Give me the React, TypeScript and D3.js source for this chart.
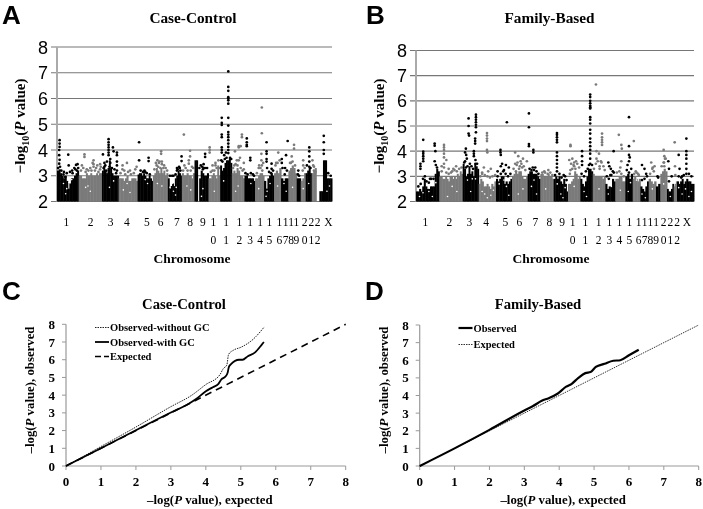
import React, { useRef, useEffect } from 'react';
import * as d3 from 'd3';

type Hit = [number, number];

const chromosomes = ['1','2','3','4','5','6','7','8','9','10','11','12','13','14','15','16','17','18','19','20','21','22','X'];
const caseWidths = [65,70,50,57,46,45,42,38,42,35,35,38,32,27,30,21,22,25,12,15,18,23,38];
const familyWidths = [70,70,48,52,48,47,38,40,43,37,37,38,30,30,22,23,25,22,13,20,20,10,51];
// where the axis labels sit, in the same units as the widths above
const caseTickPos = [28,101,161,210,270,311,360,400,438,470,508,548,580,610,638,668,687,703,719,744,764,783,815];
const familyTickPos = [28,100,160,210,268,310,358,400,438,470,508,548,580,610,640,668,686,703,720,743,763,783,813];
const manhattanTicks = [2,3,4,5,6,7,8];
const qqTicks = [0,1,2,3,4,5,6,7,8];

// top of the solid band, column by column, 0 = empty column
const caseBand: number[][] = [
  [3.2,3.25,3.1,3.0,2.9,3.0,2.8,2.5,2.7,2.9,2.9,3.0,3.1,3.2],
  [3.0,3.0,2.9,2.9,2.9,3.1,3.0,3.0,3.1,3.0,3.0,3.0,3.1,3.0,3.1,3.1],
  [3.2,3.3,3.2,3.1,3.3,3.6,3.3,3.1,3.0,3.0,3.0,3.0],
  [2.9,2.9,2.9,2.8,2.9,3.0,2.8,2.8,2.9,2.9,2.9,2.8],
  [3.05,3.1,3.1,3.0,3.1,3.0,2.9,2.9,3.0,2.9,2.8],
  [3.0,3.1,3.3,3.2,3.1,3.3,3.1,3.2,3.0,3.1],
  [2.9,2.5,2.6,2.7,2.6,2.9,3.0,3.2,3.1,3.0],
  [3.1,3.0,3.0,3.1,3.0,3.0,2.9,3.1],
  [3.6,3.6,0,2.9,3.2,3.1,3.0,3.0,3.1],
  [2.9,2.9,3.0,3.1,3.0,2.9,3.4,3.0],
  [3.4,3.2,3.3,3.5,3.6,3.6,3.7,3.5],
  [3.1,3.2,3.1,3.3,3.2,3.0,3.0,2.9],
  [3.0,3.0,2.9,2.9,2.9,2.9,2.8],
  [2.9,2.9,3.0,3.1,3.1,3.0],
  [2.8,2.5,2.9,3.0,3.1,3.0],
  [3.1,3.2,3.1,3.3],
  [2.9,2.8,2.9,2.9],
  [3.2,3.3,3.4,3.3,3.1],
  [2.9,2.9],
  [2.8,2.9,3.1],
  [3.1,3.2,3.3,3.1],
  [3.1,3.2,3.3,0,0],
  [2.4,2.4,3.6,3.6,2.9,2.9,2.9],
];
const caseHits: Hit[][] = [
  [[.12,4.38],[.12,4.25],[.12,4.12],[.1,4.0],[.1,3.8],[.12,3.62],[.1,3.47],[.14,3.35],[.52,3.82],[.54,3.4],[.32,3.15],[.38,2.95],[.8,3.3],[.88,3.42],[.95,3.45],[.7,3.2]],
  [[.25,3.83],[.25,3.73],[.14,3.4],[.64,3.6],[.64,3.45],[.64,3.35],[.92,3.45],[.92,3.25],[.42,3.2],[.75,3.3],[.55,3.2]],
  [[.4,4.42],[.4,4.3],[.4,4.2],[.4,4.1],[.4,4.0],[.4,3.9],[.4,3.8],[.06,3.83],[.66,4.1],[.7,3.95],[.9,3.9],[.9,3.8],[.9,3.55],[.9,3.4],[.9,3.2],[.15,3.5],[.15,3.35],[.5,3.5],[.5,3.65]],
  [[.21,3.4],[.44,3.5],[.88,3.25],[.3,3.2],[.6,3.2]],
  [[.1,4.3],[.1,3.6],[.72,3.7],[.72,3.57],[.35,3.15],[.5,3.15]],
  [[.55,3.95],[.55,3.85],[.2,3.5],[.3,3.6],[.45,3.55],[.6,3.45],[.75,3.4]],
  [[.98,3.75],[.98,3.57],[.65,3.3],[.65,3.2],[.8,3.35],[.3,3.0]],
  [[.16,4.6],[.65,3.97],[.65,3.75],[.55,3.6],[.55,3.47],[.8,3.35]],
  [[.76,3.85],[.76,3.73],[.65,3.45],[.65,3.3],[.55,3.35]],
  [[.1,4.1],[.1,4.0],[.1,3.9],[.35,3.4],[.6,3.4],[.85,3.6]],
  [[.14,4.6],[.14,4.5],[.14,4.1],[.14,4.0],[.14,3.9],[.7,7.05],[.7,6.45],[.7,6.3],[.7,6.05],[.7,6.0],[.7,5.93],[.7,5.8],[.14,5.25],[.7,5.25],[.14,5.05],[.14,4.97],[.7,4.95],[.7,4.7],[.7,4.6],[.7,4.5],[.7,4.38],[.7,4.25],[.7,4.12],[.7,4.0],[.7,3.88],[.35,3.8],[.5,3.9]],
  [[.8,4.6],[.8,4.5],[.55,4.15],[.55,4.1],[.7,4.15],[.25,3.95],[.65,3.7],[.4,3.6],[.95,3.5]],
  [[.22,4.45],[.22,4.3],[.22,4.2],[.22,4.15],[.55,3.7],[.55,3.6]],
  [[.75,5.65],[.75,4.65],[.7,3.85],[.7,3.6],[.75,3.4],[.45,3.4]],
  [[.25,4.3],[.25,3.95],[.25,3.85],[.25,3.65],[.25,3.55],[.75,3.47],[.75,3.27]],
  [[.6,3.9],[.3,3.5]],
  [[.9,4.35],[.68,3.8],[.1,3.65],[.1,3.5],[.55,3.3]],
  [[.68,4.2],[.68,4.05],[.4,3.75],[.3,3.5]],
  [[.4,3.2],[.6,3.0]],
  [[.5,3.6],[.5,3.4]],
  [[.6,4.1],[.6,3.95],[.6,3.75],[.6,3.55],[.6,3.35]],
  [[.1,3.6],[.2,3.4],[.3,3.2]],
  [[.35,4.55],[.35,4.3],[.35,4.0],[.35,3.85]],
];
// the looser points just above the band
const caseFuzz: Hit[][] = [
  [[.05,3.3],[.2,3.2],[.3,3.05],[.45,3.1],[.6,3.15],[.72,3.1],[.85,3.25],[.92,3.2],[.98,3.3]],
  [[.1,3.2],[.2,3.3],[.3,3.15],[.5,3.3],[.6,3.5],[.7,3.2],[.8,3.4],[.85,3.15],[.95,3.35],[.35,3.25]],
  [[.1,3.3],[.2,3.4],[.3,3.55],[.45,3.35],[.6,3.3],[.75,3.25],[.85,3.1],[.25,3.2]],
  [[.1,3.1],[.2,3.25],[.35,3.05],[.5,3.15],[.65,3.05],[.8,3.1],[.95,3.35]],
  [[.2,3.2],[.45,3.2],[.6,3.1],[.8,3.05]],
  [[.1,3.25],[.25,3.4],[.35,3.35],[.4,3.5],[.5,3.3],[.6,3.55],[.7,3.3],[.85,3.3],[.95,3.2]],
  [[.15,3.0],[.4,3.0],[.55,3.05],[.7,3.25],[.85,3.3],[.9,3.2]],
  [[.1,3.2],[.3,3.3],[.45,3.2],[.7,3.2],[.9,3.3],[.2,3.4]],
  [[.35,3.3],[.45,3.4],[.6,3.25],[.75,3.3],[.9,3.3]],
  [[.2,3.15],[.35,3.2],[.5,3.2],[.7,3.3],[.9,3.3],[.6,3.5]],
  [[.1,3.6],[.2,3.55],[.4,3.65],[.55,3.7],[.85,3.7],[.95,3.65]],
  [[.1,3.3],[.2,3.4],[.3,3.45],[.45,3.4],[.55,3.6],[.7,3.3],[.85,3.2],[.95,3.25]],
  [[.1,3.1],[.3,3.05],[.6,3.1],[.8,3.05],[.9,3.0]],
  [[.2,3.1],[.4,3.3],[.6,3.3],[.8,3.2],[.9,3.5]],
  [[.3,3.3],[.5,3.15],[.7,3.1],[.9,3.2]],
  [[.2,3.4],[.5,3.5],[.8,3.6]],
  [[.2,3.3],[.5,3.05],[.8,3.2]],
  [[.2,3.5],[.5,3.55],[.8,3.4]],
  [[.3,3.05]],
  [[.4,3.2],[.8,3.3]],
  [[.2,3.4],[.8,3.3]],
  [[.3,3.35],[.5,3.15]],
  [[.7,3.1],[.9,3.0]],
];
// white holes in the band
const caseGaps: Hit[][] = [
  [[.3,2.7],[.45,2.5],[.55,2.75],[.68,2.85],[.4,2.3]],
  [[.3,2.55],[.4,2.6],[.5,2.4]],
  [[.7,2.8],[.45,2.55]],
  [[.25,2.45],[.6,2.35],[.45,2.7]],
  [[.5,2.85],[.65,2.7]],
  [[.3,2.7],[.6,2.6]],
  [[.15,2.55],[.4,2.4],[.55,2.25],[.3,2.7],[.6,2.55]],
  [[.4,2.6],[.7,2.45]],
  [[.6,2.5],[.5,2.2]],
  [[.5,2.4]],
  [[.3,2.8]],
  [[.5,2.6],[.3,2.4]],
  [[.6,2.7]],
  [[.4,2.5]],
  [[.3,2.4],[.2,2.2],[.6,2.7]],
  [[.5,2.6]],
  [[.4,2.7],[.7,2.4]],
  [[.5,2.55]],
  [],
  [[.5,2.5]],
  [[.5,2.7]],
  [],
  [[.6,2.4],[.8,2.6]],
];
const familyBand: number[][] = [
  [2.4,2.4,2.5,2.4,2.6,2.9,2.6,2.5,2.5,2.6,2.6,2.6,3.1,3.3,3.2],
  [3.0,3.0,2.9,2.9,3.0,2.9,2.8,3.0,3.0,2.9,3.0,2.9,3.1,3.0,3.2,3.1],
  [3.5,3.3,3.0,3.1,3.4,3.1,3.2,3.0,3.5,3.4,3.3],
  [2.7,2.9,2.8,2.6,2.6,2.7,2.6,2.5,2.7,2.6,2.8],
  [2.9,2.8,2.9,3.0,3.0,2.7,2.8,2.7,2.8,2.9],
  [3.0,3.1,3.2,3.1,3.2,3.2,3.0,2.9,2.9,3.0],
  [3.1,3.2,3.2,3.1,3.1,3.1,3.0,2.9],
  [3.1,3.1,3.0,3.0,3.0,3.1,3.0,3.0,2.9],
  [2.9,3.0,2.9,3.0,2.8,2.7,2.9,2.7,2.4],
  [2.7,2.7,2.8,2.9,3.2,3.1,2.9,3.0],
  [2.9,2.7,2.6,2.8,3.0,3.3,3.3,3.2],
  [3.1,3.0,3.0,3.0,3.0,3.0,2.9,3.0],
  [2.7,2.5,2.6,2.6,2.9,2.8],
  [2.9,2.9,3.0,3.0,2.8,2.8],
  [3.0,3.1,2.9,3.1],
  [2.9,3.0,2.9,2.8,2.9],
  [2.6,2.5,2.4,2.6,2.8],
  [2.9,2.8,2.7,2.8],
  [2.6,2.7],
  [3.1,3.2,3.3,3.2],
  [2.5,2.4,2.4,2.5,2.7],
  [2.6,2.7,2.8],
  [2.8,2.7,2.8,2.9,2.7,2.8,2.9,2.8,2.8,2.7,2.7],
];
const familyHits: Hit[][] = [
  [[.31,4.45],[.31,3.98],[.31,3.9],[.31,3.8],[.31,3.7],[.31,3.6],[.19,3.5],[.19,3.4],[.19,3.3],[.8,4.3],[.8,4.22],[.83,4.0],[.8,3.6],[.85,3.45],[.38,3.0],[.6,2.9]],
  [[.2,4.25],[.2,4.15],[.2,4.05],[.2,3.9],[.2,3.75],[.2,3.5],[.3,3.65],[.1,3.4],[.4,3.3],[.6,3.3],[.72,3.4],[.5,3.15]],
  [[.37,5.3],[.37,5.0],[.37,4.7],[.4,4.62],[.83,5.45],[.83,5.35],[.83,5.25],[.83,5.15],[.83,5.05],[.83,4.95],[.83,4.75],[.78,4.5],[.78,4.4],[.78,4.3],[.2,4.1],[.15,3.95],[.22,3.85],[.26,3.7],[.15,3.6],[.7,4.0],[.7,3.9],[.7,3.8],[.8,3.65],[.8,3.5]],
  [[.48,4.72],[.48,4.62],[.48,4.5],[.48,4.4],[.48,4.05],[.5,3.95],[.3,3.35],[.55,3.2],[.7,3.3],[.2,3.15]],
  [[.68,5.15],[.28,4.05],[.28,3.95],[.3,3.85],[.38,3.5],[.3,3.4],[.5,3.25],[.62,3.45],[.8,3.35],[.1,3.2]],
  [[.2,3.95],[.4,3.8],[.55,3.6],[.7,3.7],[.3,3.45],[.5,3.4],[.65,3.35],[.25,3.2]],
  [[.1,5.5],[.1,4.95],[.1,4.28],[.1,4.2],[.45,4.05],[.45,3.95],[.4,3.35],[.6,3.35]],
  [[.3,3.2],[.6,3.25]],
  [[.23,4.72],[.23,4.65],[.23,4.55],[.23,4.45],[.23,4.35],[.23,3.95],[.23,3.8],[.23,3.65],[.23,3.5],[.23,3.35],[.23,3.2],[.8,3.0]],
  [[.2,4.25],[.2,4.2],[.1,3.65],[.25,3.5],[.35,3.7],[.5,3.55],[.5,3.4],[.65,3.6],[.2,3.25]],
  [[.14,4.0],[.14,3.8],[.14,3.6],[.14,3.45],[.8,6.25],[.8,6.15],[.8,6.0],[.8,5.9],[.8,5.8],[.8,5.75],[.8,5.7],[.8,5.35],[.8,5.25],[.8,5.1],[.8,4.85],[.8,4.7],[.8,4.5],[.8,4.35],[.8,4.2],[.8,4.05],[.8,3.9],[.8,3.7],[.8,3.5]],
  [[.26,6.65],[.74,4.7],[.74,4.55],[.74,4.45],[.74,4.35],[.74,4.25],[.3,4.0],[.5,3.9],[.3,3.7],[.65,3.6],[.55,3.4]],
  [[.83,4.0],[.3,3.55],[.4,3.4],[.55,3.3],[.75,3.2],[.5,3.05]],
  [[.35,4.65],[.6,4.25],[.65,4.1],[.6,3.6],[.5,3.35]],
  [[.5,5.35],[.5,4.2],[.5,3.85],[.6,3.75],[.5,3.6],[.3,3.45]],
  [[.15,4.4],[.4,3.2],[.7,3.1]],
  [[.2,3.45],[.5,3.3],[.7,3.1]],
  [[.35,3.55],[.55,3.35],[.7,3.2]],
  [[.35,3.0]],
  [[.5,4.05],[.6,3.8],[.7,3.7],[.55,3.55],[.6,3.4]],
  [[.2,3.6],[.3,3.3]],
  [[.3,4.35],[.4,3.4]],
  [[.55,4.5],[.55,4.0],[.55,3.85],[.55,3.7],[.55,3.5],[.55,3.3],[.55,3.1],[.1,3.85],[.15,3.3],[.3,3.0]],
];
const familyFuzz: Hit[][] = [
  [[.1,2.6],[.2,2.7],[.3,2.9],[.45,2.8],[.55,2.75],[.65,2.9],[.75,2.9],[.9,3.35]],
  [[.1,3.2],[.2,3.35],[.3,3.15],[.4,3.1],[.55,3.2],[.65,3.25],[.75,3.2],[.85,3.3],[.95,3.35]],
  [[.1,3.55],[.2,3.35],[.3,3.4],[.45,3.5],[.55,3.4],[.65,3.3],[.9,3.5]],
  [[.1,3.0],[.2,3.1],[.35,3.05],[.5,3.0],[.65,2.95],[.8,3.0],[.95,3.05]],
  [[.1,3.0],[.3,3.1],[.45,3.2],[.6,3.1],[.75,3.0],[.9,3.1]],
  [[.1,3.3],[.2,3.5],[.35,3.55],[.45,3.3],[.6,3.5],[.75,3.4],[.85,3.25],[.95,3.6]],
  [[.15,3.3],[.3,3.25],[.5,3.25],[.7,3.2],[.85,3.1]],
  [[.15,3.15],[.35,3.15],[.55,3.1],[.75,3.15],[.9,3.05]],
  [[.1,3.05],[.4,3.1],[.55,2.95],[.7,3.05],[.9,2.85]],
  [[.15,3.1],[.35,3.3],[.45,3.45],[.6,3.3],[.75,3.5],[.9,3.35]],
  [[.1,3.1],[.3,3.0],[.45,3.2],[.6,3.3],[.7,3.45],[.95,3.45]],
  [[.1,3.3],[.25,3.5],[.4,3.6],[.55,3.3],[.7,3.55],[.85,3.4],[.95,3.25]],
  [[.15,3.0],[.35,2.9],[.6,3.05],[.85,3.15]],
  [[.15,3.15],[.4,3.2],[.6,3.1],[.85,3.0]],
  [[.2,3.25],[.5,3.15],[.8,3.3]],
  [[.2,3.1],[.5,3.15],[.8,3.05]],
  [[.2,2.85],[.5,2.9],[.8,3.0]],
  [[.2,3.1],[.5,3.3],[.8,3.4]],
  [[.5,2.95]],
  [[.2,3.4],[.5,3.55],[.8,3.7]],
  [[.3,2.8],[.7,3.0]],
  [[.5,3.05]],
  [[.1,3.0],[.25,2.95],[.4,3.05],[.7,3.1],[.85,3.0]],
];
const familyGaps: Hit[][] = [
  [[.15,2.2],[.3,2.35],[.55,2.4],[.7,2.2],[.85,2.75]],
  [[.35,2.2],[.55,2.6],[.75,2.4]],
  [[.3,2.85],[.6,2.9],[.8,2.9],[.5,2.4]],
  [[.2,2.4],[.35,2.3],[.5,2.15],[.7,2.25],[.85,2.45]],
  [[.2,2.7],[.5,2.85],[.65,2.6],[.8,2.25]],
  [[.4,2.3],[.7,2.5]],
  [[.3,2.6],[.5,2.85],[.7,2.3]],
  [[.4,2.5]],
  [[.25,2.7],[.5,2.3],[.65,2.15],[.8,2.55]],
  [[.5,2.6]],
  [[.3,2.4],[.5,2.2]],
  [[.5,2.5]],
  [[.3,2.3],[.6,2.6]],
  [[.5,2.45]],
  [[.4,2.4],[.7,2.75]],
  [[.5,2.85]],
  [[.2,2.3],[.6,2.15]],
  [[.5,2.5]],
  [],
  [[.5,2.7]],
  [[.5,2.2]],
  [],
  [[.1,2.55],[.3,2.3],[.5,2.5],[.7,2.2],[.85,2.4]],
];

const withGC: Hit[] = [[0,0],[1,1],[2,2.02],[3,3.02],[3.5,3.5],[3.7,3.75],[4,4.22],[4.2,4.45],[4.36,4.64],[4.45,4.9],[4.55,5.03],[4.62,5.25],[4.66,5.6],[4.72,5.75],[4.95,6],[5.05,6],[5.2,6.2],[5.4,6.4],[5.6,6.85],[5.66,7]];
const withoutGC: Hit[] = [[0,0],[1,1.1],[2,2.2],[3,3.35],[3.6,4],[4,4.6],[4.4,5.15],[4.5,5.5],[4.6,5.7],[4.65,6.3],[4.8,6.55],[5,6.7],[5.35,7.15],[5.67,7.85]];
const familyObserved: Hit[] = [[0,0],[1,1],[2,2.05],[3,3.15],[3.25,3.4],[3.5,3.7],[3.7,3.85],[3.95,4.1],[4.2,4.5],[4.35,4.65],[4.55,5],[4.75,5.27],[4.9,5.33],[5.05,5.62],[5.3,5.8],[5.55,5.97],[5.75,6],[6,6.28],[6.28,6.6]];
const expectedLine: Hit[] = [[0,0],[8,8]];

const serif = '"Liberation Serif", serif';
const sans = '"Liberation Sans", sans-serif';

type Sel = d3.Selection<SVGGElement, unknown, null, undefined>;

function label(g: Sel, x: number, y: number, text: string, size: number, family = serif, anchor = 'middle', weight = 'bold') {
  return g.append('text').attr('x', x).attr('y', y).attr('font-family', family)
    .attr('font-size', size).attr('font-weight', weight).attr('text-anchor', anchor).attr('fill', '#000').text(text);
}

function manhattan(g: Sel, o: {
  left: number; right: number; top: number; bottom: number; widths: number[]; tickPos: number[];
  band: number[][]; hits: Hit[][]; fuzz: Hit[][]; gaps: Hit[][]; title: string; titleX: number; xLabelX: number; yLabelX: number;
}) {
  const y = d3.scaleLinear().domain([2, 8]).range([o.bottom, o.top]);
  const edges = [0, ...d3.cumsum(o.widths)];
  const x = d3.scaleLinear().domain([0, edges[edges.length - 1]]).range([o.left, o.right]);

  manhattanTicks.forEach(t => {
    g.append('line').attr('x1', o.left - 6).attr('x2', o.right).attr('y1', y(t)).attr('y2', y(t))
      .attr('stroke', '#777').attr('stroke-width', 1.2);
    label(g, o.left - 9, y(t) + 6.5, String(t), 18, sans, 'end', 'normal');
  });
  g.append('line').attr('x1', o.left).attr('x2', o.left).attr('y1', o.top).attr('y2', o.bottom)
    .attr('stroke', '#aaa').attr('stroke-width', 2);

  chromosomes.forEach((name, i) => {
    const color = i % 2 === 0 ? '#000' : '#7a7a7a';
    const x0 = edges[i], w = o.widths[i], cols = o.band[i];
    g.append('g').selectAll('rect').data(cols).enter().append('rect')
      .attr('x', (_d, j) => x(x0 + (w * j) / cols.length))
      .attr('width', x(w / cols.length) - x(0) + 0.5)
      .attr('y', d => y(d || 2))
      .attr('height', d => (d ? o.bottom - y(d) : 0))
      .attr('fill', color);
    g.append('g').selectAll('circle').data([...o.hits[i], ...o.fuzz[i]]).enter().append('circle')
      .attr('cx', d => x(x0 + w * d[0]))
      .attr('cy', d => y(d[1]))
      .attr('r', 1.35)
      .attr('fill', color);
    g.append('g').selectAll('circle').data(o.gaps[i]).enter().append('circle')
      .attr('cx', d => x(x0 + w * d[0]))
      .attr('cy', d => y(d[1]))
      .attr('r', 0.8)
      .attr('fill', '#fff');
    const cx = x(o.tickPos[i]);
    if (name.length === 2) {
      label(g, cx, 226, name[0], 11.5, serif, 'middle', 'normal');
      label(g, cx, 244, name[1], 11.5, serif, 'middle', 'normal');
    } else {
      label(g, cx, 226, name, 11.5, serif, 'middle', 'normal');
    }
  });

  label(g, o.titleX, 23, o.title, 15.3);
  label(g, o.xLabelX, 263, 'Chromosome', 13.5);
  const yl = label(g, 0, 0, '', 15).attr('transform', `translate(${o.yLabelX},126) rotate(-90)`);
  yl.append('tspan').text('\u2212log');
  yl.append('tspan').attr('font-size', 10).attr('dy', 4).text('10');
  yl.append('tspan').attr('dy', -4).text('(');
  yl.append('tspan').attr('font-style', 'italic').text('P');
  yl.append('tspan').text(' value)');
}

function qq(g: Sel, o: {
  left: number; right: number; top: number; bottom: number; title: string; titleX: number;
  series: { data: Hit[]; width: number; dash: string; color: string }[];
  legend: { text: string; x: number; y: number; len: number; width: number; dash: string; color: string }[];
}) {
  const x = d3.scaleLinear().domain([0, 8]).range([o.left, o.right]);
  const y = d3.scaleLinear().domain([0, 8]).range([o.bottom, o.top]);
  const axisColor = '#999';
  g.append('line').attr('x1', o.left).attr('x2', o.left).attr('y1', o.top).attr('y2', o.bottom + 1).attr('stroke', axisColor).attr('stroke-width', 1.2);
  g.append('line').attr('x1', o.left).attr('x2', o.right).attr('y1', o.bottom).attr('y2', o.bottom).attr('stroke', axisColor).attr('stroke-width', 1.2);
  qqTicks.forEach(t => {
    g.append('line').attr('x1', o.left - 4).attr('x2', o.left).attr('y1', y(t)).attr('y2', y(t)).attr('stroke', axisColor);
    g.append('line').attr('x1', x(t)).attr('x2', x(t)).attr('y1', o.bottom).attr('y2', o.bottom + 4).attr('stroke', axisColor);
    label(g, o.left - 11, y(t) + 4.5, String(t), 13, serif, 'end');
    label(g, x(t), 486, String(t), 13);
  });
  const line = d3.line<Hit>().x(d => x(d[0])).y(d => y(d[1])).curve(d3.curveMonotoneX);
  o.series.forEach(s => {
    g.append('path').attr('d', line(s.data)).attr('fill', 'none').attr('stroke', s.color)
      .attr('stroke-width', s.width).attr('stroke-dasharray', s.dash);
  });
  o.legend.forEach(l => {
    g.append('line').attr('x1', l.x).attr('x2', l.x + l.len).attr('y1', l.y).attr('y2', l.y)
      .attr('stroke', l.color).attr('stroke-width', l.width).attr('stroke-dasharray', l.dash);
    label(g, l.x + l.len + 1, l.y + 3.5, l.text, 10.5, serif, 'start');
  });
  label(g, o.titleX, 309, o.title, 14.7);
  const xl = label(g, (o.left + o.right) / 2 + 4, 504, '\u2013log(', 12.8);
  xl.append('tspan').attr('font-style', 'italic').text('P');
  xl.append('tspan').text(' value), expected');
  const yl = label(g, 0, 0, '\u2013log(', 12.8).attr('transform', `translate(${o.left - 32},390) rotate(-90)`);
  yl.append('tspan').attr('font-style', 'italic').text('P');
  yl.append('tspan').text(' value), observed');
}

export default function App() {
  const svgRef = useRef<SVGSVGElement>(null);

  useEffect(() => {
    if (!svgRef.current) return;
    const svg = d3.select(svgRef.current);
    svg.selectAll('*').remove();
    // the reference is a soft scan, a very slight blur brings the marks closer to it
    svg.append('filter').attr('id', 'soft').attr('filterUnits', 'userSpaceOnUse')
      .attr('x', 0).attr('y', 0).attr('width', 703).attr('height', 509)
      .append('feGaussianBlur').attr('stdDeviation', 0.35);
    const root = svg.append('g').attr('filter', 'url(#soft)') as unknown as Sel;

    label(root, 2, 24, 'A', 26, sans, 'start');
    label(root, 366, 24, 'B', 26, sans, 'start');
    label(root, 2, 300, 'C', 26, sans, 'start');
    label(root, 365, 300, 'D', 26, sans, 'start');

    manhattan(root, { left: 57, right: 332, top: 47, bottom: 201.5, widths: caseWidths, tickPos: caseTickPos, band: caseBand, hits: caseHits, fuzz: caseFuzz, gaps: caseGaps, title: 'Case-Control', titleX: 193, xLabelX: 192, yLabelX: 25 });
    manhattan(root, { left: 416, right: 694, top: 50.5, bottom: 201.5, widths: familyWidths, tickPos: familyTickPos, band: familyBand, hits: familyHits, fuzz: familyFuzz, gaps: familyGaps, title: 'Family-Based', titleX: 549.5, xLabelX: 551, yLabelX: 384 });

    qq(root, {
      left: 66, right: 345.7, top: 324.3, bottom: 466, title: 'Case-Control', titleX: 184,
      series: [
        { data: expectedLine, width: 1.6, dash: '7 5', color: '#000' },
        { data: withoutGC, width: 1, dash: '1.5 1', color: '#222' },
        { data: withGC, width: 1.8, dash: '', color: '#000' },
      ],
      legend: [
        { text: 'Observed-without GC', x: 95, y: 327.5, len: 14, width: 1, dash: '1.5 1', color: '#222' },
        { text: 'Observed-with GC', x: 95, y: 342, len: 14, width: 1.8, dash: '', color: '#000' },
        { text: 'Expected', x: 95, y: 356.5, len: 14, width: 1.6, dash: '6 3', color: '#000' },
      ],
    });
    qq(root, {
      left: 419.7, right: 698.7, top: 325, bottom: 466, title: 'Family-Based', titleX: 538,
      series: [
        { data: expectedLine, width: 1, dash: '1.5 1', color: '#333' },
        { data: familyObserved, width: 2.2, dash: '', color: '#000' },
      ],
      legend: [
        { text: 'Observed', x: 458.5, y: 328, len: 14, width: 2.2, dash: '', color: '#000' },
        { text: 'Expected', x: 458.5, y: 344.5, len: 14, width: 1, dash: '1.5 1', color: '#333' },
      ],
    });
  }, []);

  return <svg ref={svgRef} width={703} height={509} style={{ position: 'fixed', left: 0, top: 0, background: '#fff' }} />;
}
